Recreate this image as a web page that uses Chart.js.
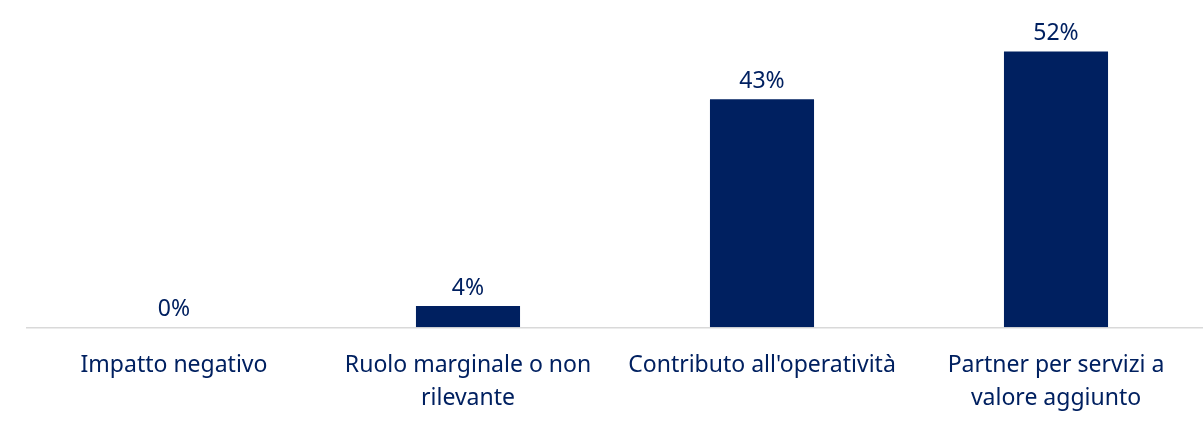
<!DOCTYPE html>
<html>
<head>
<meta charset="utf-8">
<script src="https://cdn.jsdelivr.net/npm/chart.js@4/dist/chart.umd.min.js"></script>
<style>
  html, body { margin: 0; padding: 0; background: #fff; }
  #wrap { width: 1203px; height: 439px; position: relative; }
</style>
</head>
<body>
<div id="wrap"><canvas id="barChart"></canvas></div>
<script>
// Chart data
const categories = [
    'Impatto negativo',
    ['Ruolo marginale o non', 'rilevante'],
    "Contributo all'operatività",
    ['Partner per servizi a', 'valore aggiunto']
];
const values = [0, 4, 43, 52];

const navy = '#002060';

// draws the % value above each bar
const valueLabels = {
    id: 'valueLabels',
    afterDatasetsDraw(chart) {
        const ctx = chart.ctx;
        const meta = chart.getDatasetMeta(0);
        ctx.save();
        ctx.font = '23px "Noto Sans", sans-serif';
        ctx.fillStyle = navy;
        ctx.textAlign = 'center';
        ctx.textBaseline = 'bottom';
        meta.data.forEach(function(bar, i) {
            ctx.fillText(values[i] + '%', bar.x, bar.y - 6);
        });
        ctx.restore();
    }
};

new Chart(document.getElementById('barChart').getContext('2d'), {
    type: 'bar',
    data: {
        labels: categories,
        datasets: [{
            data: values,
            backgroundColor: navy,
            borderWidth: 0,
            categoryPercentage: 1,
            barPercentage: 0.354
        }]
    },
    options: {
        responsive: true,
        maintainAspectRatio: false,
        animation: false,
        layout: { padding: { left: 27, right: 0, top: 9, bottom: 11 } },
        plugins: {
            legend: { display: false },
            tooltip: { enabled: false }
        },
        scales: {
            x: {
                grid: { display: false },
                border: { color: '#d9d9d9', width: 1.5 },
                ticks: {
                    color: navy,
                    font: { size: 23, family: '"Noto Sans", sans-serif', lineHeight: 1.45 },
                    padding: 13,
                    maxRotation: 0,
                    autoSkip: false
                }
            },
            y: {
                display: false,
                min: 0,
                max: 60
            }
        }
    },
    plugins: [valueLabels]
});
</script>
</body>
</html>
